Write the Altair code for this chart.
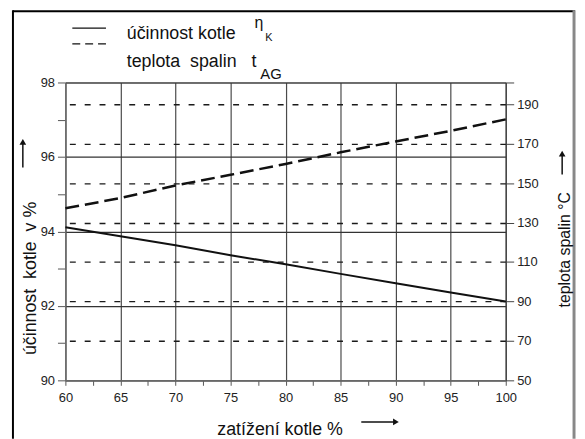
import altair as alt
import pandas as pd

# ---- data ----
load = [60, 65, 70, 75, 80, 85, 90, 95, 100]                                        # zatížení kotle %
efficiency = [94.11, 93.87, 93.63, 93.36, 93.12, 92.86, 92.61, 92.36, 92.12]        # účinnost kotle %
flue_temp = [137.2, 142.4, 148.8, 154.2, 159.7, 165.6, 171.1, 176.5, 182.3]         # teplota spalin °C

x_ticks = [60, 62.5, 65, 67.5, 70, 72.5, 75, 77.5, 80, 82.5, 85, 87.5, 90, 92.5, 95, 97.5, 100]
left_ticks = [90, 91, 92, 93, 94, 95, 96, 97, 98]
right_ticks = [50, 70, 90, 110, 130, 150, 170, 190, 201]

NB = "\u00a0"
legend_eff = "účinnost kotle"
legend_temp = "teplota" + NB + " spalin"
title_left = "účinnost" + NB + " kotle" + NB + " v %"
title_right = "teplota spalin °C"
title_bottom = "zatížení kotle %"

FONT = "Liberation Sans"

df = pd.DataFrame({"load": load, "eff": efficiency, "temp": flue_temp})
base = alt.Chart(df)

x_enc = alt.X(
    "load:Q",
    scale=alt.Scale(domain=[60, 100], nice=False, zero=False),
    axis=alt.Axis(
        values=x_ticks,
        labelExpr="datum.value % 5 == 0 ? datum.label : ''",
        grid=True, gridColor="#4a4a4a", gridWidth=1.2,
        gridOpacity={"condition": {"test": "datum.value % 5 != 0", "value": 0}, "value": 1},
        tickSize=5, tickColor="#555", domainColor="#777",
        labelFontSize=13, labelColor="#222", labelPadding=6, labelFlush=False,
        title=None,
    ),
)

eff_line = base.mark_line(color="#111", strokeWidth=2).encode(
    x=x_enc,
    y=alt.Y(
        "eff:Q",
        scale=alt.Scale(domain=[90, 98], nice=False, zero=False),
        axis=alt.Axis(
            values=left_ticks,
            labelExpr="datum.value % 2 == 0 ? datum.label : ''",
            grid=True, gridColor="#333", gridWidth=1.2,
            gridOpacity={"condition": {"test": "datum.value % 2 != 0", "value": 0}, "value": 1},
            tickSize=8, tickColor="#555", domainColor="#777",
            labelFontSize=13, labelColor="#222", labelPadding=3, labelFlush=False,
            title=None,
        ),
    ),
)

temp_line = base.mark_line(color="#111", strokeWidth=2.5, strokeDash=[14, 6]).encode(
    x=x_enc,
    y=alt.Y(
        "temp:Q",
        scale=alt.Scale(domain=[50, 201], nice=False, zero=False),
        axis=alt.Axis(
            orient="right",
            values=right_ticks,
            labelExpr="datum.value > 200 ? '' : datum.label",
            grid=True, gridColor="#1a1a1a", gridWidth=1.3, gridDash=[6, 9],
            gridOpacity={"condition": {"test": "datum.value < 60 || datum.value > 200", "value": 0}, "value": 1},
            tickSize=8, tickColor="#444", domainColor="#444",
            labelFontSize=13, labelColor="#222", labelPadding=3, labelFlush=False,
            title=None,
        ),
    ),
)

one = alt.Data(values=[{"k": 1}])


def txt(s, x, y, size=16, angle=0, align="left", baseline="alphabetic"):
    return alt.Chart(one).mark_text(
        text=s, fontSize=size, angle=angle, align=align, baseline=baseline,
        color="#111", font=FONT,
    ).encode(x=alt.value(x), y=alt.value(y))


def hrule(x1, x2, y, color="#111", width=1.5, dash=None):
    kw = dict(color=color, strokeWidth=width)
    if dash:
        kw["strokeDash"] = dash
    return alt.Chart(one).mark_rule(**kw).encode(x=alt.value(x1), x2=alt.value(x2), y=alt.value(y))


def vrule(x, y1, y2, color="#111", width=1.5):
    return alt.Chart(one).mark_rule(color=color, strokeWidth=width).encode(
        x=alt.value(x), y=alt.value(y1), y2=alt.value(y2))


def head(x, y, shape):
    return alt.Chart(one).mark_point(shape=shape, filled=True, size=45, color="#111", opacity=1).encode(
        x=alt.value(x), y=alt.value(y))


decor = [
    # outer frame
    vrule(-53, -73, 360, color="#000", width=2),
    hrule(-53, 515, -72, color="#000", width=2),
    vrule(514, -73, 360, color="#888", width=3),
    # legend
    hrule(7, 41, -55, width=1.3),
    hrule(7, 41, -39, width=1.3, dash=[8, 5]),
    txt(legend_eff, 62, -44, size=18),
    txt("η", 191, -55, size=16),
    txt("K", 202, -42, size=11),
    txt(legend_temp, 62, -16, size=18),
    txt("t", 188, -16, size=18),
    txt("AG", 197, -4, size=15),
    # axis titles
    txt(title_left, -35, 198, size=18, angle=270, align="center", baseline="middle"),
    txt(title_right, 505, 169, size=16, angle=270, align="center", baseline="middle"),
    txt(title_bottom, 217, 356, size=18, align="center"),
    # arrows
    vrule(-43, 62, 86, width=1.5),
    head(-43, 60, "triangle-up"),
    vrule(502, 74, 93, width=1.5),
    head(502, 72, "triangle-up"),
    hrule(299, 332, 343, width=1.5),
    head(334, 343, "triangle-right"),
]

chart = alt.layer(eff_line, temp_line, *decor).resolve_scale(y="independent").properties(
    width=445, height=301,
    padding={"left": 58, "top": 73, "right": 72, "bottom": 57},
    autosize=alt.AutoSizeParams(type="none"),
    background="white",
).configure(font=FONT).configure_view(stroke="#555", strokeWidth=1).configure_axis(
    labelFont=FONT, domainWidth=1, tickWidth=1
)

chart.save("out.html", embed_options={"renderer": "svg", "actions": False})
